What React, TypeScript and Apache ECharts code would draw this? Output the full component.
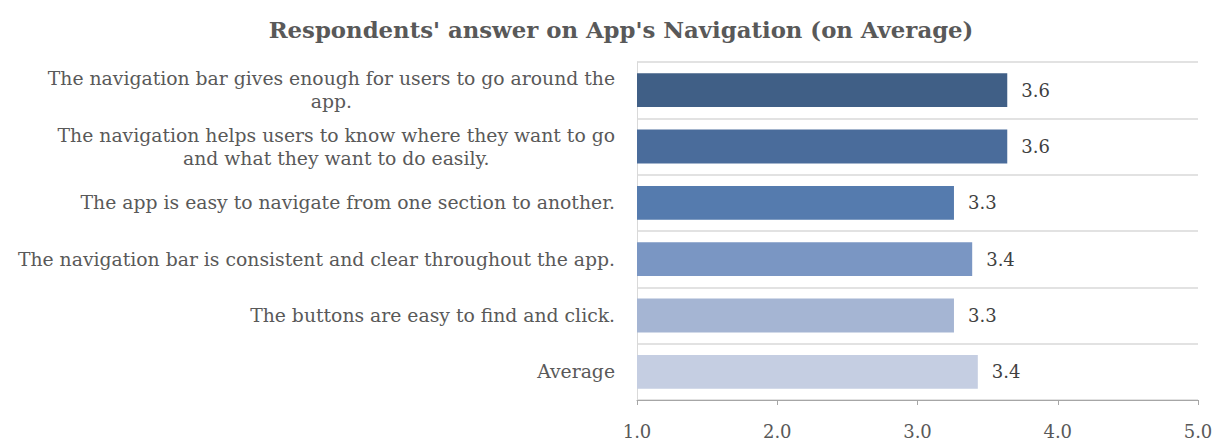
import React, { useEffect, useRef } from "react";
import * as echarts from "echarts";

const titleText = "Respondents' answer on App's Navigation (on Average)";
const categories = [
  "The navigation bar gives enough for users to go around the\napp.",
  "The navigation helps users to know where they want to go\nand what they want to do easily.",
  "The app is easy to navigate from one section to another.",
  "The navigation bar is consistent and clear throughout the app.",
  "The buttons are easy to find and click.",
  "Average",
];
const values = [3.64, 3.64, 3.26, 3.39, 3.26, 3.43];
const barColors = ["#405f86", "#4a6c9b", "#557bae", "#7a96c3", "#a5b5d3", "#c5cee2"];
const xTicks = [1, 2, 3, 4, 5];

export default function App() {
  const ref = useRef<HTMLDivElement>(null);
  useEffect(() => {
    const chart = echarts.init(ref.current!, null, { renderer: "svg" });
    const font = "DejaVu Serif";
    chart.setOption({
      animation: false,
      backgroundColor: "#ffffff",
      title: {
        text: titleText,
        left: 616,
        textAlign: "center",
        top: 13,
        textStyle: { fontFamily: font, fontWeight: "bold", fontSize: 22.8, color: "#595959" },
      },
      grid: { left: 637, right: 34, top: 62, bottom: 42, containLabel: false },
      xAxis: {
        type: "value",
        min: xTicks[0],
        max: xTicks[xTicks.length - 1],
        interval: 1,
        axisLine: { show: true, lineStyle: { color: "#a6a6a6" } },
        axisTick: { show: true, length: 5, lineStyle: { color: "#a6a6a6" } },
        splitLine: { show: false },
        axisLabel: {
          formatter: (v: number) => v.toFixed(1),
          fontFamily: font,
          fontSize: 18,
          color: "#595959",
          margin: 22,
        },
      },
      yAxis: {
        type: "category",
        inverse: true,
        data: categories,
        axisLine: { show: true, lineStyle: { color: "#d9d9d9" } },
        axisTick: { show: false },
        splitLine: { show: true, lineStyle: { color: "#d9d9d9", width: 1.5 } },
        axisLabel: {
          margin: 22,
          formatter: (v: string) =>
            v.split("\n").map((s) => "{c|" + s + "}").join("\n"),
          rich: {
            c: {
              align: "center",
              fontFamily: font,
              fontSize: 18.8,
              color: "#595959",
              lineHeight: 23,
            },
          },
        },
      },
      series: [
        {
          type: "bar",
          data: values.map((v, i) => ({ value: v, itemStyle: { color: barColors[i] } })),
          barCategoryGap: "40%",
          label: {
            show: true,
            position: "right",
            distance: 14,
            formatter: (p: any) => p.value.toFixed(1),
            fontFamily: font,
            fontSize: 18,
            color: "#404040",
          },
        },
      ],
    });
    return () => chart.dispose();
  }, []);
  return (
    <div
      ref={ref}
      style={{ position: "fixed", left: 0, top: 0, width: 1232, height: 442 }}
    />
  );
}
